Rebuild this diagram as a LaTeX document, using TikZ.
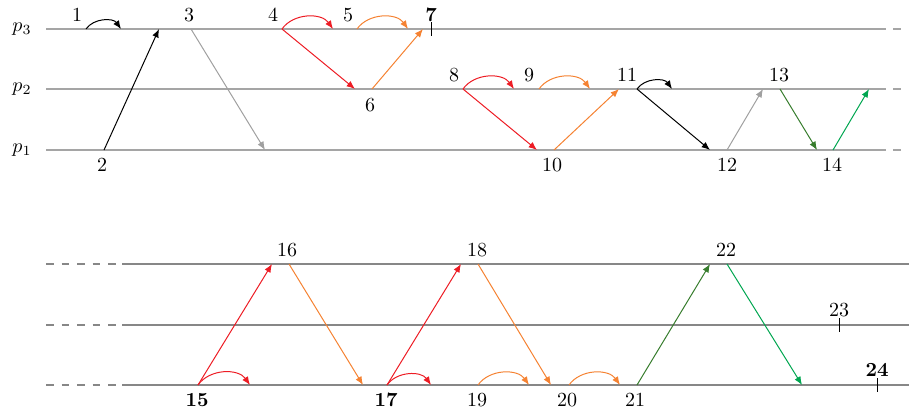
\documentclass[tikz,border=0pt]{standalone}
\usepackage{amsmath,amssymb}
\usepackage{xcolor}
\usepackage{tikz}
\usetikzlibrary{arrows.meta}
\usetikzlibrary{positioning}

\definecolor{msgred}{RGB}{237,28,36}
\definecolor{msgorange}{RGB}{245,130,50}
\definecolor{msgdkgreen}{RGB}{55,125,45}
\definecolor{msggreen}{RGB}{0,166,80}
\definecolor{msggray}{RGB}{160,160,160}
\definecolor{linegray}{RGB}{165,165,165}
\definecolor{linedark}{RGB}{135,135,135}

\begin{document}
\begin{tikzpicture}[
  x=0.5pt, y=-0.5pt,
  tl/.style={draw=linegray, line width=0.75pt},
  tlb/.style={draw=linedark, line width=0.65pt},
  tldash/.style={tlb, dash pattern=on 3.75pt off 4pt},
  arr/.style={-{Latex[length=4.2pt,width=3.4pt]}, line width=0.5pt},
  loc/.style={arr, bend left=55},
  lbl/.style={inner sep=0pt, font=\normalsize},
  tick/.style={line width=0.5pt}
]
\useasboundingbox (0,0) rectangle (909,414);

%% Timelines top
\foreach \y/\p in {29/3, 89/2, 150/1}{
  \draw[tl] (46,\y) -- (886,\y);
  \draw[tl] (893,\y) -- (901,\y);
  \node[lbl] (p\p) at (22,\y) {$p_{\p}$};
}

%% Timelines bottom
\foreach \y in {264, 325, 385}{
  \draw[tldash] (46,\y) -- (121,\y);
  \draw[tlb] (122,\y) -- (909,\y);
}

%% Events top
\coordinate (c1)  at (86,29);  \coordinate (c1e)  at (121,29);
\coordinate (c2)  at (104,150);\coordinate (c2e)  at (159,29);
\coordinate (c3)  at (191,29); \coordinate (c3e)  at (265,150);
\coordinate (c4)  at (282,29); \coordinate (c4a)  at (333,29); \coordinate (c4b) at (355,89);
\coordinate (c5)  at (357,29); \coordinate (c5e)  at (408,29);
\coordinate (c6)  at (372,89); \coordinate (c6e)  at (423,29);
\coordinate (c7)  at (431,29);
\coordinate (c8)  at (463,89); \coordinate (c8a)  at (514,89); \coordinate (c8b) at (537,150);
\coordinate (c9)  at (539,89); \coordinate (c9e)  at (590,89);
\coordinate (c10) at (554,150);\coordinate (c10e) at (619,89);
\coordinate (c11) at (637,89); \coordinate (c11a) at (672,89); \coordinate (c11b) at (710,150);
\coordinate (c12) at (727,150);\coordinate (c12e) at (763,89);
\coordinate (c13) at (780,89); \coordinate (c13e) at (817,150);
\coordinate (c14) at (833,150);\coordinate (c14e) at (869,89);

\node[lbl] (n1)  at (77,15)   {1};
\node[lbl] (n2)  at (102,165) {2};
\node[lbl] (n3)  at (189,15)  {3};
\node[lbl] (n4)  at (273,15)  {4};
\node[lbl] (n5)  at (348,15)  {5};
\node[lbl] (n6)  at (370,105) {6};
\node[lbl] (n7)  at (431,15)  {\textbf{7}};
\node[lbl] (n8)  at (454,75)  {8};
\node[lbl] (n9)  at (529,75)  {9};
\node[lbl] (n10) at (552,165) {10};
\node[lbl] (n11) at (627,75)  {11};
\node[lbl] (n12) at (727,165) {12};
\node[lbl] (n13) at (779,75)  {13};
\node[lbl] (n14) at (832,165) {14};

\draw[loc] (c1) to (c1e);
\draw[arr] (c2) -- (c2e);
\draw[arr, msggray] (c3) -- (c3e);
\draw[loc, msgred] (c4) to (c4a);
\draw[arr, msgred] (c4) -- (c4b);
\draw[loc, msgorange] (c5) to (c5e);
\draw[arr, msgorange] (c6) -- (c6e);
\draw[tick] ([yshift=3.5]c7) -- ([yshift=-3.5]c7);
\draw[loc, msgred] (c8) to (c8a);
\draw[arr, msgred] (c8) -- (c8b);
\draw[loc, msgorange] (c9) to (c9e);
\draw[arr, msgorange] (c10) -- (c10e);
\draw[loc] (c11) to (c11a);
\draw[arr] (c11) -- (c11b);
\draw[arr, msggray] (c12) -- (c12e);
\draw[arr, msgdkgreen] (c13) -- (c13e);
\draw[arr, msggreen] (c14) -- (c14e);

%% Events bottom
\coordinate (c15) at (198,385); \coordinate (c15a) at (250,385); \coordinate (c15b) at (272,264);
\coordinate (c16) at (289,264); \coordinate (c16e) at (363,385);
\coordinate (c17) at (387,385); \coordinate (c17a) at (431,385); \coordinate (c17b) at (461,264);
\coordinate (c18) at (478,264); \coordinate (c18e) at (551,385);
\coordinate (c19) at (478,385); \coordinate (c19e) at (529,385);
\coordinate (c20) at (569,385); \coordinate (c20e) at (620,385);
\coordinate (c21) at (637,385); \coordinate (c21e) at (710,264);
\coordinate (c22) at (727,264); \coordinate (c22e) at (802,385);
\coordinate (c23) at (839,325);
\coordinate (c24) at (877,385);

\node[lbl] (n15) at (197,400) {\textbf{15}};
\node[lbl] (n16) at (287,250) {16};
\node[lbl] (n17) at (386,400) {\textbf{17}};
\node[lbl] (n18) at (477,250) {18};
\node[lbl] (n19) at (477,400) {19};
\node[lbl] (n20) at (567,400) {20};
\node[lbl] (n21) at (635,400) {21};
\node[lbl] (n22) at (726,250) {22};
\node[lbl] (n23) at (839,310) {23};
\node[lbl] (n24) at (877,370) {\textbf{24}};

\draw[arr, msgred] (c15) -- (c15b);
\draw[loc, msgred] (c15) to (c15a);
\draw[arr, msgorange] (c16) -- (c16e);
\draw[loc, msgred] (c17) to (c17a);
\draw[arr, msgred] (c17) -- (c17b);
\draw[arr, msgorange] (c18) -- (c18e);
\draw[loc, msgorange] (c19) to (c19e);
\draw[loc, msgorange] (c20) to (c20e);
\draw[arr, msgdkgreen] (c21) -- (c21e);
\draw[arr, msggreen] (c22) -- (c22e);
\draw[tick] ([yshift=3.5]c23) -- ([yshift=-3.5]c23);
\draw[tick] ([yshift=3.5]c24) -- ([yshift=-3.5]c24);

\end{tikzpicture}
\end{document}
